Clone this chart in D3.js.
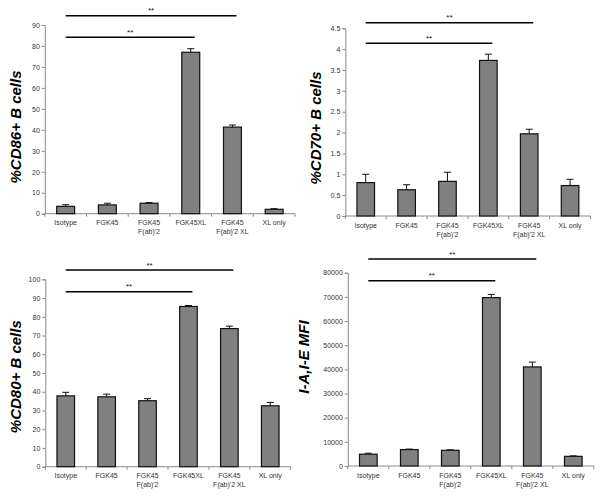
<!DOCTYPE html>
<html><head><meta charset="utf-8">
<script src="https://cdn.jsdelivr.net/npm/d3@7"></script>
<style>body{margin:0;background:#fff}svg{display:block}</style>
</head><body>
<svg id="c" width="600" height="497"></svg>
<script>
// ---- data ----
const categories = ["Isotype", "FGK45", "FGK45\nF(ab)'2", "FGK45XL", "FGK45\nF(ab)'2 XL", "XL only"];

const cd86Means  = [3.5, 4.2, 5.0, 77.0, 41.3, 2.1];
const cd86Errors = [0.8, 0.8, 0.3, 1.7, 1.0, 0.3];
const cd86Ticks  = [0, 10, 20, 30, 40, 50, 60, 70, 80, 90];

const cd70Means  = [0.80, 0.63, 0.83, 3.73, 1.97, 0.73];
const cd70Errors = [0.20, 0.12, 0.22, 0.15, 0.11, 0.15];
const cd70Ticks  = [0, 0.5, 1, 1.5, 2, 2.5, 3, 3.5, 4, 4.5];

const cd80Means  = [37.8, 37.3, 35.2, 85.5, 73.7, 32.5];
const cd80Errors = [1.9, 1.4, 1.1, 0.5, 1.3, 1.8];
const cd80Ticks  = [0, 10, 20, 30, 40, 50, 60, 70, 80, 90, 100];

const iaieMeans  = [4900, 6800, 6500, 69700, 41000, 4000];
const iaieErrors = [400, 200, 200, 1300, 2000, 200];
const iaieTicks  = [0, 10000, 20000, 30000, 40000, 50000, 60000, 70000, 80000];

// significance comparisons: [fromIndex, toIndex, label]
const sigPairs = [[0, 4, "**"], [0, 3, "**"]];

const titles = ["%CD86+ B cells", "%CD70+ B cells", "%CD80+ B cells", "I-A,I-E MFI"];

// ---- layout ----
const panels = [
  {means: cd86Means, errs: cd86Errors, ticks: cd86Ticks, title: titles[0],
   x0: 44.8, x1: 295.0, y0: 213.7, yTop: 25.0, sigY: [15.7, 37.3], tx: 15, ty: 127},
  {means: cd70Means, errs: cd70Errors, ticks: cd70Ticks, title: titles[1],
   x0: 345.3, x1: 590.5, y0: 216.0, yTop: 28.3, sigY: [22.7, 43.3], tx: 315, ty: 128},
  {means: cd80Means, errs: cd80Errors, ticks: cd80Ticks, title: titles[2],
   x0: 45.3, x1: 290.7, y0: 466.7, yTop: 279.3, sigY: [270.0, 291.7], tx: 15, ty: 376.7},
  {means: iaieMeans, errs: iaieErrors, ticks: iaieTicks, title: titles[3],
   x0: 347.8, x1: 593.8, y0: 466.0, yTop: 272.7, sigY: [259.0, 280.7], tx: 303, ty: 357}
];

const svg = d3.select("#c");
const FONT = "'Liberation Sans', Arial, sans-serif";
const axisColor = "#8a8a8a";

panels.forEach(p => {
  const g = svg.append("g");
  const x = d3.scaleBand().domain(categories).range([p.x0, p.x1]).paddingInner(0).paddingOuter(0);
  const yMax = p.ticks[p.ticks.length - 1];
  const y = d3.scaleLinear().domain([0, yMax]).range([p.y0, p.yTop]);
  const bw = x.bandwidth() * 0.43;

  // y axis
  const ya = d3.axisLeft(y).tickValues(p.ticks).tickSize(3).tickPadding(2).tickFormat(d => String(d));
  const yg = g.append("g").attr("transform", `translate(${p.x0},0)`).call(ya);
  yg.select(".domain").attr("stroke", axisColor);
  yg.selectAll(".tick line").attr("stroke", axisColor);
  yg.selectAll(".tick text").attr("font-family", FONT).attr("font-size", 7).attr("fill", "#333");

  // x axis with boundary ticks
  const xg = g.append("g").attr("transform", `translate(0,${p.y0})`);
  xg.append("line").attr("x1", p.x0).attr("x2", p.x1).attr("stroke", axisColor);
  const bounds = categories.map(c => x(c)).concat([p.x1]);
  xg.selectAll("line.tk").data(bounds).enter().append("line").attr("class", "tk")
    .attr("x1", d => d).attr("x2", d => d).attr("y1", 0).attr("y2", 3).attr("stroke", axisColor);
  categories.forEach(c => {
    const lines = c.split("\n");
    const t = xg.append("text").attr("x", x(c) + x.bandwidth() / 2).attr("y", 11.5)
      .attr("text-anchor", "middle").attr("font-family", FONT).attr("font-size", 7).attr("fill", "#333");
    lines.forEach((l, i) => t.append("tspan").attr("x", x(c) + x.bandwidth() / 2).attr("dy", i === 0 ? 0 : 9).text(l));
  });

  // bars
  g.selectAll("rect.bar").data(p.means).enter().append("rect").attr("class", "bar")
    .attr("x", (d, i) => x(categories[i]) + (x.bandwidth() - bw) / 2)
    .attr("width", bw)
    .attr("y", d => y(d))
    .attr("height", d => y(0) - y(d))
    .attr("fill", "#808080").attr("stroke", "#111").attr("stroke-width", 1.2);

  // error bars (upper only)
  p.means.forEach((m, i) => {
    const cx = x(categories[i]) + x.bandwidth() / 2;
    g.append("line").attr("x1", cx).attr("x2", cx).attr("y1", y(m)).attr("y2", y(m + p.errs[i]))
      .attr("stroke", "#111").attr("stroke-width", 1);
    g.append("line").attr("x1", cx - 3.5).attr("x2", cx + 3.5).attr("y1", y(m + p.errs[i])).attr("y2", y(m + p.errs[i]))
      .attr("stroke", "#111").attr("stroke-width", 1);
  });

  // significance lines
  sigPairs.forEach((s, k) => {
    const xa = x(categories[s[0]]) + x.bandwidth() / 2;
    const xb = x(categories[s[1]]) + x.bandwidth() / 2 + 4;
    const yy = p.sigY[k];
    g.append("line").attr("x1", xa).attr("x2", xb).attr("y1", yy).attr("y2", yy)
      .attr("stroke", "#000").attr("stroke-width", 1.6);
    g.append("text").attr("x", (xa + xb) / 2).attr("y", yy - 2.5).attr("text-anchor", "middle")
      .attr("font-family", FONT).attr("font-size", 8).attr("fill", "#111").text(s[2]);
  });

  // y title
  g.append("text").attr("transform", `translate(${p.tx},${p.ty}) rotate(-90)`)
    .attr("text-anchor", "middle").attr("dominant-baseline", "central")
    .attr("font-family", FONT).attr("font-size", 15).attr("font-weight", "bold").attr("font-style", "italic")
    .attr("fill", "#000").text(p.title);
});
</script>
</body></html>
